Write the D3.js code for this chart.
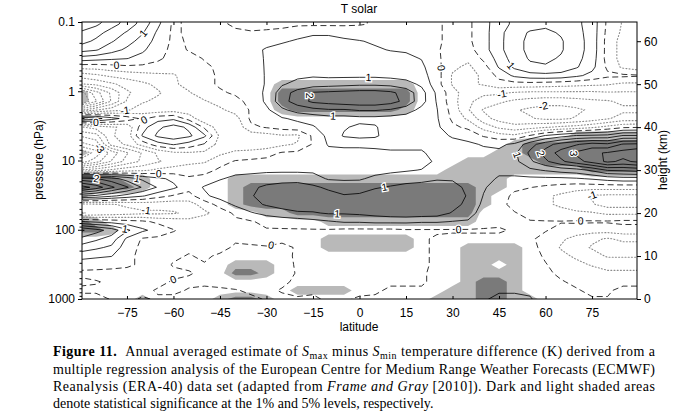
<!DOCTYPE html>
<html>
<head>
<meta charset="utf-8">
<script src="https://cdn.jsdelivr.net/npm/d3@7"></script>
<style>
  body { margin: 0; background: #fff; }
  svg { display: block; font-family: "Liberation Sans", Arial, sans-serif; }
  .axis text { font-size: 12px; fill: #000; }
  .axis line { stroke: #000; }
  .caption { font-family: "Liberation Serif", "Times New Roman", serif; font-size: 14px; fill: #000; }
  .clabel { text-rendering: geometricPrecision; -webkit-font-smoothing: antialiased; }
</style>
</head>
<body>
<svg id="chart" width="700" height="420"></svg>
<script>
// grid of the regression estimate: columns are latitudes, rows are log-pressure heights (top row first)
const latitudes = [-90, -85, -80, -75, -70, -65, -60, -55, -50, -45, -40, -35, -30, -25, -20, -15, -10, -5, 0,
  5, 10, 15, 20, 25, 30, 35, 40, 45, 50, 55, 60, 65, 70, 75, 80, 85, 90];
const heightsKm = [66, 64, 62, 60, 58, 56, 54, 52, 50, 48, 46, 44, 42, 40, 38, 36, 34, 32, 30, 28, 26, 24, 22, 20,
  18, 16, 14, 12, 10, 8, 6, 4, 2, 0];

// Smax - Smin temperature difference (K)
const tempDiff = [
  [3.2, 2.9, 2.4, 1.9, 1.4, 0.8, -0.1, 0.1, 0.2, 0.15, -0.1, -0.2, -0.2, -0.2, -0.15, -0.1, -0.1, -0.1, -0.05, 0.05, 0.1, 0.1, 0.15, 0.05, -0.1, -0.1, 0.3, 0.8, 1.1, 1.3, 1.4, 1.3, 1.1, 0.8, -0.1, -0.55, -0.8],
  [2.8, 2.6, 2.2, 1.8, 1.3, 0.6, -0.1, 0.1, 0.2, 0.1, -0.1, -0.2, -0.2, -0.2, -0.1, -0.1, -0.1, -0.1, -0.05, 0.05, 0.1, 0.1, 0.1, 0.05, -0.1, -0.1, 0.3, 0.8, 1.1, 1.3, 1.4, 1.3, 1.1, 0.8, -0.1, -0.55, -0.8],
  [2.45, 2.2, 1.8, 1.45, 1.05, 0.4, -0.1, 0.1, 0.2, 0.15, 0.1, 0.05, 0.1, 0.2, 0.35, 0.45, 0.45, 0.4, 0.3, 0.25, 0.2, 0.2, 0.15, 0.05, -0.1, -0.1, 0.3, 0.85, 1.3, 1.55, 1.6, 1.45, 1.15, 0.8, -0.15, -0.6, -0.9],
  [2.2, 1.9, 1.55, 1.2, 0.8, 0.3, -0.1, 0.05, 0.15, 0.15, 0.15, 0.2, 0.35, 0.45, 0.55, 0.6, 0.6, 0.55, 0.52, 0.45, 0.35, 0.3, 0.2, 0.05, -0.1, -0.1, 0.3, 0.85, 1.35, 1.6, 1.65, 1.55, 1.2, 0.8, -0.2, -0.7, -0.9],
  [1.7, 1.55, 1.2, 0.9, 0.6, 0.15, -0.1, 0.02, 0.1, 0.15, 0.2, 0.35, 0.55, 0.65, 0.7, 0.7, 0.7, 0.65, 0.6, 0.55, 0.48, 0.45, 0.3, 0.05, -0.2, -0.2, 0.3, 0.85, 1.35, 1.6, 1.65, 1.55, 1.2, 0.8, -0.2, -0.7, -0.9],
  [0.8, 0.7, 0.6, 0.52, 0.3, 0.1, -0.2, -0.1, 0.02, 0.1, 0.15, 0.3, 0.55, 0.75, 0.8, 0.85, 0.85, 0.85, 0.8, 0.75, 0.65, 0.6, 0.48, 0.1, -0.3, -0.4, 0.1, 0.7, 1.25, 1.55, 1.6, 1.45, 1.15, 0.75, -0.2, -0.7, -0.9],
  [-0.3, -0.3, -0.2, -0.1, -0.1, -0.2, -0.3, -0.2, -0.05, 0.05, 0.1, 0.25, 0.55, 0.8, 0.85, 0.9, 0.9, 0.9, 0.85, 0.85, 0.8, 0.7, 0.6, 0.15, -0.4, -0.6, -0.2, 0.55, 1.1, 1.4, 1.45, 1.35, 1.05, 0.65, -0.1, -0.6, -0.8],
  [-1.3, -1.1, -0.9, -0.8, -0.7, -0.6, -0.55, -0.3, -0.1, 0.05, 0.1, 0.2, 0.55, 0.85, 0.9, 0.95, 0.9, 0.9, 0.9, 0.9, 0.85, 0.8, 0.7, 0.2, -0.55, -0.7, -0.4, 0.15, 0.6, 0.8, 0.85, 0.8, 0.6, 0.35, 0.1, 0.1, 0.05],
  [-2.05, -1.9, -1.6, -1.3, -1.1, -0.9, -0.6, -0.3, -0.1, 0.05, 0.1, 0.2, 0.55, 0.95, 1.15, 1.25, 1.3, 1.35, 1.4, 1.4, 1.35, 1.2, 0.9, 0.2, -0.55, -0.6, -0.45, -0.2, -0.2, -0.2, -0.25, -0.3, -0.35, -0.4, -0.45, -0.6, -0.6],
  [-4.3, -3.2, -2.4, -1.6, -1.2, -1.05, -0.8, -0.55, -0.2, -0.05, 0.05, 0.2, 0.6, 1.25, 1.7, 2.05, 2.1, 2.15, 2.2, 2.2, 2.1, 1.8, 1.2, 0.4, -0.3, -0.8, -0.9, -0.9, -1.05, -1.1, -1.1, -1.1, -1.1, -1.1, -1.05, -1.05, -1.05],
  [-4.6, -3.55, -2.45, -1.45, -1.05, -0.9, -0.9, -0.7, -0.55, -0.3, -0.1, 0.1, 0.6, 1.3, 1.75, 2.1, 2.2, 2.3, 2.35, 2.35, 2.2, 1.85, 1.2, 0.45, -0.3, -0.9, -1.2, -1.4, -1.6, -1.7, -1.8, -1.8, -1.7, -1.6, -1.55, -1.4, -1.4],
  [-2.1, -1.55, -1.2, -1.05, -0.8, -0.8, -0.7, -0.8, -0.9, -0.6, -0.3, 0.05, 0.4, 0.9, 1.2, 1.35, 1.45, 1.45, 1.55, 1.55, 1.45, 1.25, 0.85, 0.52, -0.2, -0.95, -1.55, -1.8, -1.95, -2.1, -2.2, -2.2, -2.1, -1.9, -1.7, -1.6, -1.6],
  [1.6, 1.2, 0.7, 0.3, -0.1, 0.3, 0.4, -0.2, -0.9, -0.9, -0.7, 0.1, 0.2, 0.45, 0.6, 0.7, 0.8, 0.8, 0.85, 0.85, 0.8, 0.75, 0.7, 0.55, -0.1, -0.6, -1.3, -1.7, -1.9, -1.95, -2.1, -2.1, -1.95, -1.8, -1.55, -1.3, -1.3],
  [-1.55, -1.3, -1.05, -0.9, 0.3, 0.9, 1.2, 0.9, -0.1, -0.8, -0.9, -0.1, 0.05, 0.2, 0.3, 0.45, 0.75, 0.95, 1.1, 1.05, 0.75, 0.7, 0.65, 0.6, 0.1, -0.1, -0.7, -1.1, -1.3, -1.2, -1.05, -0.9, -0.8, -0.6, -0.35, -0.1, -0.05],
  [-2.45, -2.2, -1.05, -0.8, 0.55, 1.1, 1.3, 1.1, 0.6, -0.6, -0.9, -0.8, -0.7, -0.55, -0.6, 0.1, 0.65, 1.05, 1.15, 1.1, 0.7, 0.7, 0.65, 0.65, 0.45, 0.3, -0.05, -0.3, -0.4, 0.05, 0.55, 0.8, 1.05, 1.1, 1.15, 1.55, 1.55],
  [-3.2, -2.8, -1.3, -0.9, -0.3, 0.3, 0.55, 0.3, -0.05, -0.7, -0.8, -0.9, -0.8, -0.6, -0.45, 0.05, 0.55, 0.6, 0.6, 0.6, 0.6, 0.6, 0.6, 0.7, 0.65, 0.6, 0.45, 0.4, 0.6, 1.3, 1.8, 2.2, 2.45, 2.7, 2.6, 3.05, 3.1],
  [-4.45, -3.8, -2.8, -2.05, -1.45, -0.9, -0.6, -0.55, -0.6, -0.6, -0.4, -0.3, -0.2, 0.05, 0.1, 0.2, 0.35, 0.35, 0.35, 0.4, 0.45, 0.45, 0.45, 0.65, 0.7, 0.75, 0.65, 0.6, 0.9, 1.6, 2.2, 2.7, 3.1, 3.4, 3.55, 3.7, 3.9],
  [-3.8, -3.2, -2.45, -1.8, -1.4, -1.05, -0.8, -0.6, -0.55, -0.2, 0.05, 0.1, 0.15, 0.2, 0.2, 0.25, 0.3, 0.25, 0.2, 0.2, 0.2, 0.25, 0.3, 0.6, 0.75, 0.8, 0.75, 0.7, 0.85, 1.4, 1.9, 2.4, 2.8, 3.2, 3.6, 3.4, 3.6],
  [-1.45, -1.2, -0.9, -0.7, -0.6, -0.4, -0.3, -0.3, -0.2, 0.1, 0.3, 0.35, 0.4, 0.4, 0.4, 0.4, 0.4, 0.3, 0.3, 0.35, 0.4, 0.45, 0.52, 0.7, 0.8, 0.75, 0.7, 0.6, 0.7, 0.9, 1.05, 1.2, 1.3, 1.6, 2.05, 2.1, 2.2],
  [2.2, 2.05, 1.7, 1.3, 0.9, 0.6, 0.4, 0.1, 0.2, 0.45, 0.65, 0.7, 0.75, 0.8, 0.8, 0.7, 0.45, 0.45, 0.45, 0.6, 0.7, 0.8, 0.85, 0.95, 0.95, 0.8, 0.65, 0.45, 0.4, 0.4, 0.4, 0.4, 0.45, 0.55, 0.7, 0.8, 0.8],
  [3.8, 3.3, 2.6, 2.05, 1.45, 0.95, 0.6, 0.2, 0.55, 0.8, 0.9, 0.9, 1.1, 1.2, 1.25, 1.1, 0.9, 0.7, 0.75, 0.95, 1.05, 1.15, 1.2, 1.25, 1.15, 0.9, 0.55, 0.3, 0.1, 0.02, -0.1, -0.2, -0.3, -0.3, -0.3, -0.3, -0.3],
  [1.6, 1.4, 1.1, 0.8, 0.55, 0.2, -0.05, -0.2, 0.4, 0.7, 0.85, 0.95, 1.25, 1.4, 1.45, 1.35, 1.2, 1.05, 1.1, 1.25, 1.4, 1.4, 1.45, 1.45, 1.3, 0.95, 0.48, 0.2, -0.1, -0.3, -0.4, -0.6, -0.8, -1.05, -1.1, -1.1, -1.1],
  [-1.2, -1.1, -1.05, -0.9, -0.8, -0.8, -0.8, -0.7, -0.3, 0.2, 0.6, 0.85, 1.05, 1.2, 1.4, 1.3, 1.25, 1.1, 1.2, 1.35, 1.45, 1.45, 1.45, 1.45, 1.2, 0.85, 0.4, 0.1, -0.1, -0.3, -0.4, -0.6, -0.8, -0.95, -1.2, -1.2, -1.2],
  [-1.55, -1.4, -1.3, -1.2, -1.1, -1.1, -1.05, -0.9, -0.6, -0.3, 0.1, 0.45, 0.65, 0.8, 0.9, 0.95, 1.05, 1.05, 1.1, 1.2, 1.3, 1.35, 1.3, 1.25, 0.95, 0.7, 0.3, 0.1, 0.02, -0.1, -0.2, -0.3, -0.4, -0.45, -0.6, -0.6, -0.6],
  [0.55, 0.4, 0.3, 0.2, 0.1, -0.1, -0.2, -0.3, -0.2, -0.1, -0.1, -0.05, 0.15, 0.2, 0.25, 0.35, 0.45, 0.55, 0.55, 0.6, 0.6, 0.6, 0.55, 0.55, 0.48, 0.45, 0.2, 0.1, 0.05, 0.02, 0.02, 0.02, 0.05, 0.05, 0.05, 0.1, 0.1],
  [2.6, 2.2, 1.8, 1.1, 0.6, 0.3, 0.02, -0.1, -0.05, -0.05, -0.1, -0.1, -0.05, -0.05, -0.05, -0.05, -0.05, -0.1, -0.1, -0.1, -0.1, -0.05, -0.05, -0.05, -0.05, -0.05, -0.05, -0.05, 0.05, 0.05, 0.02, -0.1, -0.2, -0.3, -0.3, -0.2, -0.2],
  [1.9, 1.6, 1.3, 0.4, -0.05, -0.1, -0.1, -0.1, -0.1, -0.05, -0.05, -0.1, -0.1, -0.05, -0.05, -0.1, -0.15, -0.2, -0.2, -0.2, -0.15, -0.1, -0.05, 0.05, 0.1, 0.1, 0.1, 0.1, 0.1, 0.05, -0.1, -0.4, -0.7, -0.9, -1.05, -0.9, -0.9],
  [1.3, 1.1, 0.9, 0.2, -0.1, -0.15, -0.1, -0.05, -0.1, -0.1, 0.05, 0.05, 0.02, 0.05, -0.02, -0.15, -0.2, -0.25, -0.25, -0.2, -0.15, -0.1, -0.05, 0.05, 0.2, 0.2, 0.2, 0.25, 0.2, 0.1, -0.1, -0.55, -0.8, -1.05, -1.2, -1.2, -1.2],
  [0.7, 0.6, 0.52, 0.1, -0.1, -0.1, -0.05, 0.02, -0.05, 0.05, 0.2, 0.3, 0.2, 0.1, -0.05, -0.15, -0.2, -0.25, -0.2, -0.2, -0.15, -0.1, -0.05, 0.05, 0.2, 0.15, 0.3, 0.35, 0.3, 0.15, -0.05, -0.35, -0.6, -0.8, -1.05, -1.05, -1.05],
  [0.2, 0.15, 0.1, 0.05, -0.05, -0.1, 0.02, 0.05, 0.02, 0.15, 0.3, 0.4, 0.35, 0.15, -0.05, -0.15, -0.2, -0.2, -0.2, -0.15, -0.1, -0.1, -0.1, 0.1, 0.25, 0.2, 0.35, 0.4, 0.35, 0.2, 0.02, -0.15, -0.35, -0.55, -0.7, -0.7, -0.7],
  [-0.1, -0.1, -0.1, -0.1, -0.1, -0.1, -0.05, -0.02, 0.05, 0.2, 0.3, 0.4, 0.3, 0.1, -0.02, -0.15, -0.2, -0.2, -0.2, -0.1, -0.1, -0.1, -0.05, 0.1, 0.25, 0.3, 0.4, 0.45, 0.4, 0.25, 0.05, -0.05, -0.15, -0.25, -0.4, -0.4, -0.4],
  [0.1, 0.02, -0.05, -0.1, -0.1, -0.05, 0.02, 0.05, 0.05, 0.1, 0.15, 0.2, 0.15, 0.05, -0.05, -0.1, -0.15, -0.2, -0.15, -0.1, -0.05, -0.05, -0.05, 0.1, 0.2, 0.3, 0.4, 0.45, 0.4, 0.3, 0.1, 0.02, -0.05, -0.1, -0.15, -0.1, -0.1],
  [-0.1, -0.05, -0.1, -0.1, -0.05, 0.02, 0.05, -0.02, -0.05, -0.05, -0.02, 0.05, 0.05, -0.02, -0.05, -0.05, -0.1, -0.1, -0.1, -0.05, 0.05, 0.05, 0.05, 0.1, 0.25, 0.35, 0.4, 0.45, 0.45, 0.4, 0.15, 0.05, 0.02, -0.05, -0.05, 0.1, 0.1],
  [0.2, 0.1, -0.02, -0.05, 0.02, -0.02, -0.05, -0.1, -0.1, -0.1, -0.05, -0.05, 0.02, 0.05, 0.02, 0.05, -0.05, -0.05, 0.05, 0.05, 0.1, 0.1, 0.1, 0.1, 0.2, 0.3, 0.45, 0.6, 0.6, 0.55, 0.2, 0.05, 0.02, 0.02, 0.02, 0.05, 0.05]
];

// statistical significance per grid point: 0 none, 1 = 5% level, 2 = 1% level
const significance = [
  "0000000000000000000000000000000000000",
  "0000000000000000000000000000000000000",
  "0000000000000000000000000000000000000",
  "0000000000000000000000000000000000000",
  "0000000000000000000000000000000000000",
  "0000000000000000000000000000000000000",
  "0000000000000000000000000000000000000",
  "0000000000000000000000000000000000000",
  "0000000000000111111111000000000000000",
  "1000000000000222222222000000000000000",
  "1000000000000222222222000000000000000",
  "0000000000000122222221000000000000000",
  "1000000000000000000000000000000000000",
  "0000000000000000000000000000000000000",
  "0000000000000000000000000000000011111",
  "0000000000000000000000000000122222222",
  "1000000000000000000000000001122222222",
  "0000000000000000000000000111112222222",
  "0000000000000000000000001111111112222",
  "2221100000111111111111111111000000000",
  "2222100000122222222222222211000000000",
  "1000000000122222222222222210000000000",
  "0000000000122222222222222210000000000",
  "0000000000001122222222222200000000000",
  "2100000000000000111111111100000000000",
  "2210000000000000000000000000000000000",
  "0000000000000000111111000000000000000",
  "0000000000000000111111000111100000000",
  "0000000000000000000000000111100000000",
  "0000000000111000000000000110100000000",
  "0000000000221000000000000111100000000",
  "0000000000000000000000000122100000000",
  "0000000000000011110000001122100000000",
  "0000100001221000000000011122110000000"
];

const contourLevels = [-4.5, -4, -3.5, -3, -2.5, -2, -1.5, -1, -0.5, 0, 0.5, 1, 1.5, 2, 2.5, 3, 3.5, 4, 4.5];
const pressureTicks = [0.1, 1, 10, 100, 1000];
const latitudeTicks = [-75, -60, -45, -30, -15, 0, 15, 30, 45, 60, 75];
const heightTicks = [0, 10, 20, 30, 40, 50, 60];

const svg = d3.select("#chart");
const plot = { left: 82, right: 637, top: 22, bottom: 299 };

const x = d3.scaleLinear().domain([-89.5, 89.5]).range([plot.left, plot.right]);
const yPres = d3.scaleLog().domain([1000, 0.1]).range([plot.bottom, plot.top]);
const yKm = d3.scaleLinear().domain([0, 64.47]).range([plot.bottom, plot.top]);

const nx = latitudes.length, ny = heightsKm.length;
const colToLat = d3.scaleLinear().domain([0, nx - 1]).range([latitudes[0], latitudes[nx - 1]]);
const rowToKm = d3.scaleLinear().domain([0, ny - 1]).range([heightsKm[0], heightsKm[ny - 1]]);
// d3.contours puts grid value i at i + 0.5
const project = p => [x(colToLat(p[0] - 0.5)), yKm(rowToKm(p[1] - 0.5))];
const path = d3.geoPath(d3.geoTransform({
  point(px, py) { const q = project([px, py]); this.stream.point(q[0], q[1]); }
}));

svg.append("clipPath").attr("id", "plotClip")
  .append("rect")
  .attr("x", plot.left).attr("y", plot.top)
  .attr("width", plot.right - plot.left).attr("height", plot.bottom - plot.top);

const body = svg.append("g").attr("clip-path", "url(#plotClip)");

// significance shading
const sigValues = significance.flatMap(row => Array.from(row.padEnd(nx, "0").slice(0, nx), Number));
const shades = d3.contours().size([nx, ny]).thresholds([0.5, 1.5])(sigValues);
body.selectAll("path.shade")
  .data(shades)
  .join("path")
  .attr("class", "shade")
  .attr("d", path)
  .attr("fill", d => d.value > 1 ? "#7a7a7a" : "#b9b9b9");

// temperature contours
const lines = d3.contours().size([nx, ny]).thresholds(contourLevels)(tempDiff.flat());
body.selectAll("path.iso")
  .data(lines)
  .join("path")
  .attr("class", "iso")
  .attr("d", path)
  .attr("fill", "none")
  .attr("stroke", d => d.value < 0 ? "#8c8c8c" : "#000")
  .attr("stroke-width", d => d.value < 0 ? 1.1 : 0.8)
  .attr("stroke-dasharray", d => d.value < 0 ? "1,2.2" : d.value === 0 ? "6,3.5" : null)
  .attr("stroke-linecap", d => d.value < 0 ? "round" : "butt");

// contour labels on the integer levels
const inside = p => p[0] > plot.left + 7 && p[0] < plot.right - 7 && p[1] > plot.top + 6 && p[1] < plot.bottom - 6;
const placed = [];
const labels = [];
lines.filter(c => Number.isInteger(c.value)).forEach(c => {
  c.coordinates.forEach(poly => poly.forEach(ring => {
    const pts = ring.map(project);
    const segs = [];
    let total = 0;
    for (let i = 1; i < pts.length; i++) {
      if (inside(pts[i - 1]) && inside(pts[i])) {
        const len = Math.hypot(pts[i][0] - pts[i - 1][0], pts[i][1] - pts[i - 1][1]);
        segs.push([i, total, len]);
        total += len;
      }
    }
    if (total < 28) return;
    const n = Math.min(4, Math.max(1, Math.round(total / 190)));
    for (let k = 0; k < n; k++) {
      const target = total * (k + 0.5) / n;
      const s = segs.find(s => s[1] + s[2] >= target);
      if (!s) continue;
      const a = pts[s[0] - 1], b = pts[s[0]];
      const t = s[2] ? (target - s[1]) / s[2] : 0;
      const px = a[0] + (b[0] - a[0]) * t, py = a[1] + (b[1] - a[1]) * t;
      if (placed.some(q => Math.hypot(q[0] - px, q[1] - py) < 20)) continue;
      const p0 = pts[Math.max(0, s[0] - 3)], p1 = pts[Math.min(pts.length - 1, s[0] + 2)];
      let ang = Math.atan2(p1[1] - p0[1], p1[0] - p0[0]) * 180 / Math.PI;
      if (ang > 90) ang -= 180;
      if (ang < -90) ang += 180;
      placed.push([px, py]);
      labels.push({ x: px, y: py, ang, text: c.value < 0 ? "-" + Math.abs(c.value) : String(c.value) });
    }
  }));
});

body.selectAll("text.clabel")
  .data(labels)
  .join("text")
  .attr("class", "clabel")
  .attr("transform", d => `translate(${d.x},${d.y}) rotate(${d.ang})`)
  .attr("text-anchor", "middle")
  .attr("dy", "0.35em")
  .attr("font-size", 10.5)
  .attr("paint-order", "stroke")
  .attr("stroke", "#fff")
  .attr("stroke-width", 2.5)
  .attr("fill", "#000")
  .text(d => d.text);

// frame
svg.append("rect")
  .attr("x", plot.left).attr("y", plot.top)
  .attr("width", plot.right - plot.left).attr("height", plot.bottom - plot.top)
  .attr("fill", "none").attr("stroke", "#000").attr("stroke-width", 1);

// axes
const leftAxis = svg.append("g").attr("class", "axis").attr("transform", `translate(${plot.left},0)`);
leftAxis.call(d3.axisLeft(yPres).tickValues(pressureTicks).tickFormat(d => d).tickSize(4).tickPadding(3));
leftAxis.call(g => g.select(".domain").remove());
const minorAxis = svg.append("g").attr("class", "axis").attr("transform", `translate(${plot.left},0)`);
minorAxis.call(d3.axisLeft(yPres).tickValues(yPres.ticks().filter(t => !pressureTicks.some(m => Math.abs(m - t) < 1e-9))).tickFormat("").tickSize(2.5));
minorAxis.call(g => g.select(".domain").remove());

const bottomAxis = svg.append("g").attr("class", "axis").attr("transform", `translate(0,${plot.bottom})`);
bottomAxis.call(d3.axisBottom(x).tickValues(latitudeTicks).tickSize(-3).tickPadding(9));
bottomAxis.call(g => g.select(".domain").remove());

const topAxis = svg.append("g").attr("class", "axis").attr("transform", `translate(0,${plot.top})`);
topAxis.call(d3.axisTop(x).tickValues(latitudeTicks).tickSize(-3).tickFormat(""));
topAxis.call(g => g.select(".domain").remove());

const rightAxis = svg.append("g").attr("class", "axis").attr("transform", `translate(${plot.right},0)`);
rightAxis.call(d3.axisRight(yKm).tickValues(heightTicks).tickSize(4).tickPadding(3));
rightAxis.call(g => g.select(".domain").remove());

svg.selectAll(".axis .tick text").attr("font-family", "'Liberation Sans', Arial, sans-serif");

// titles
svg.append("text").attr("x", 359).attr("y", 13).attr("text-anchor", "middle")
  .attr("font-size", 12).text("T solar");
svg.append("text").attr("x", 359).attr("y", 331).attr("text-anchor", "middle")
  .attr("font-size", 12).text("latitude");
svg.append("text").attr("transform", "translate(43,160) rotate(-90)").attr("text-anchor", "middle")
  .attr("font-size", 12).text("pressure (hPa)");
svg.append("text").attr("transform", "translate(667,160) rotate(-90)").attr("text-anchor", "middle")
  .attr("font-size", 12).text("height (km)");

// caption
const cap = svg.append("g").attr("class", "caption");
const l1 = cap.append("text").attr("x", 53).attr("y", 356)
  .attr("textLength", 602).attr("lengthAdjust", "spacing");
l1.append("tspan").attr("font-weight", "bold").text("Figure 11.");
l1.append("tspan").text("\u00a0\u00a0Annual averaged estimate of ");
l1.append("tspan").attr("font-style", "italic").text("S");
l1.append("tspan").attr("font-size", 10).attr("dy", 3).text("max");
l1.append("tspan").attr("dy", -3).text(" minus ");
l1.append("tspan").attr("font-style", "italic").text("S");
l1.append("tspan").attr("font-size", 10).attr("dy", 3).text("min");
l1.append("tspan").attr("dy", -3).text(" temperature difference (K) derived from a");

cap.append("text").attr("x", 53).attr("y", 374)
  .attr("textLength", 602).attr("lengthAdjust", "spacing")
  .text("multiple regression analysis of the European Centre for Medium Range Weather Forecasts (ECMWF)");

const l3 = cap.append("text").attr("x", 53).attr("y", 391)
  .attr("textLength", 602).attr("lengthAdjust", "spacing");
l3.append("tspan").text("Reanalysis (ERA-40) data set (adapted from ");
l3.append("tspan").attr("font-style", "italic").text("Frame and Gray");
l3.append("tspan").text(" [2010]). Dark and light shaded areas");

cap.append("text").attr("x", 53).attr("y", 408)
  .text("denote statistical significance at the 1% and 5% levels, respectively.");
</script>
</body>
</html>
